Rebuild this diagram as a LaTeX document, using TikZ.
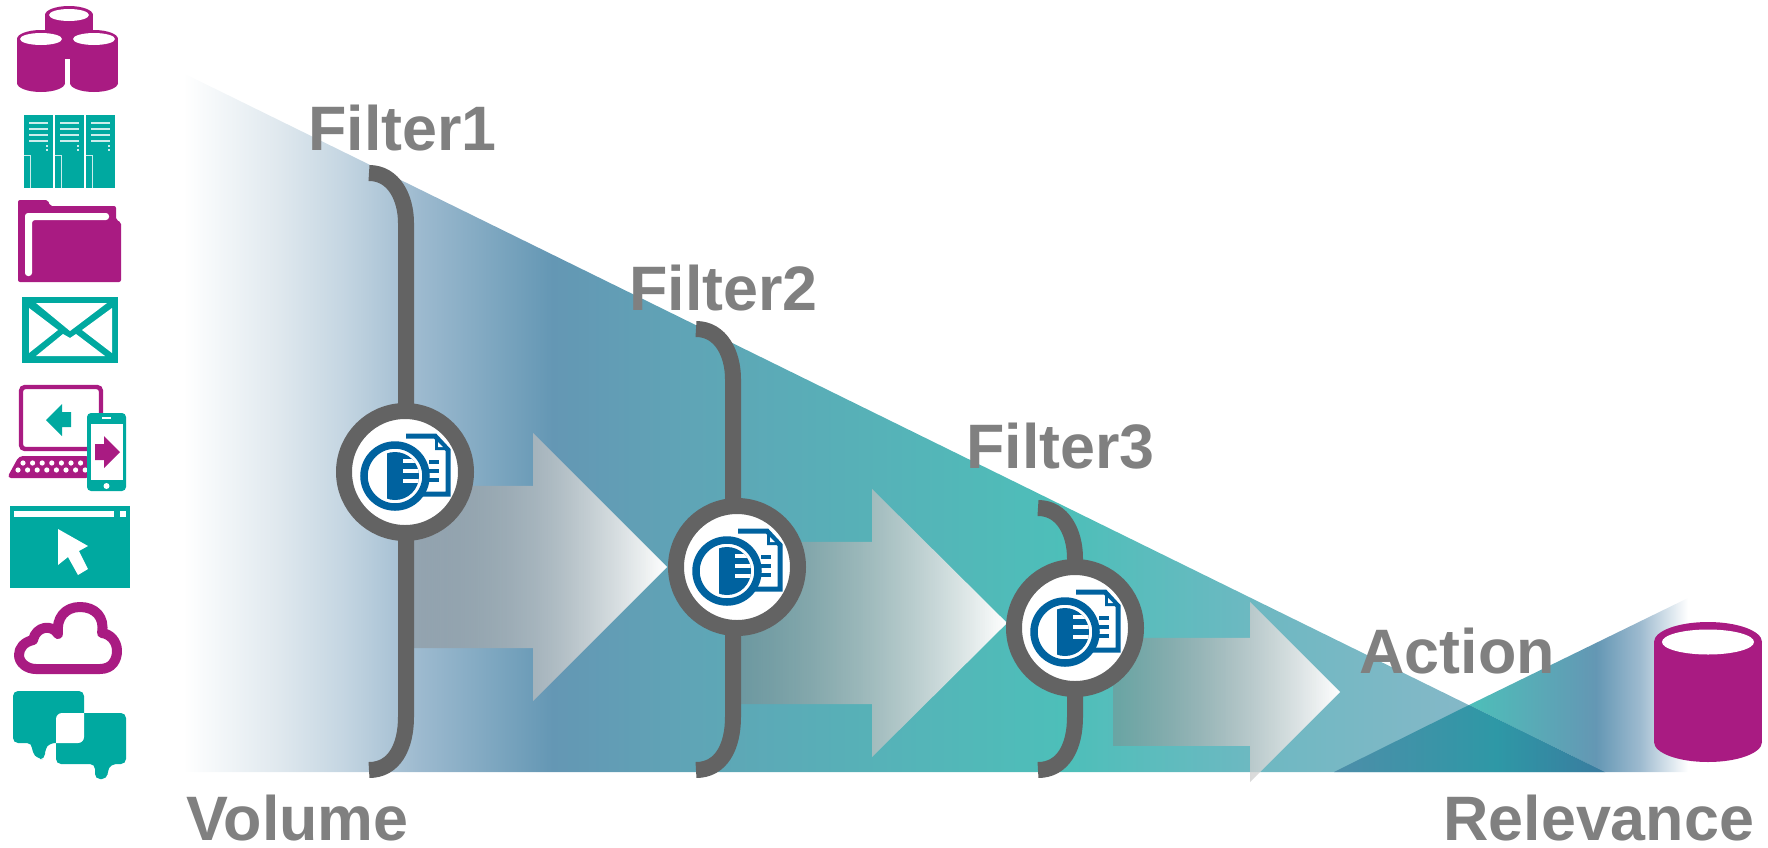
\documentclass[tikz,border=0pt]{standalone}
\usepackage{fontspec}
\setmainfont{Liberation Sans}
\usetikzlibrary{fadings}

\definecolor{iconmagenta}{HTML}{A91B82}
\definecolor{iconteal}{HTML}{00A9A0}
\definecolor{iconblue}{HTML}{00629F}
\definecolor{ringgray}{HTML}{636363}
\definecolor{labelgray}{HTML}{808080}
\definecolor{stepa}{HTML}{DFE8EE}
\definecolor{stepz}{HTML}{C5D6E2}
\definecolor{stepb}{HTML}{9DBACF}
\definecolor{stepc}{HTML}{6497B4}
\definecolor{stepd}{HTML}{5FA5B6}
\definecolor{stepe}{HTML}{4DBFB9}
\definecolor{stepf}{HTML}{6FB8C2}
\definecolor{stepg}{HTML}{93B8CB}
\definecolor{mixa}{HTML}{4D8EA9}
\definecolor{mixb}{HTML}{2E98A6}
\definecolor{mixc}{HTML}{3A7B9F}

\pgfdeclarehorizontalshading{volumeshade}{100bp}{color(0bp)=(white); color(25bp)=(white);
  color(28.4bp)=(stepa); color(30.6bp)=(stepz); color(33.3bp)=(stepb); color(38bp)=(stepc); color(43bp)=(stepd);
  color(56bp)=(stepe); color(63bp)=(stepf); color(75bp)=(stepg); color(100bp)=(stepg)}
\pgfdeclarehorizontalshading{relevanceshade}{100bp}{color(0bp)=(stepe); color(25bp)=(stepe);
  color(54bp)=(stepc); color(64bp)=(stepb); color(75bp)=(white); color(100bp)=(white)}
\pgfdeclarehorizontalshading{overlapshade}{100bp}{color(0bp)=(mixa); color(25bp)=(mixa);
  color(55bp)=(mixb); color(75bp)=(mixc); color(100bp)=(mixc)}
\tikzfading[name=flowfade,left color=transparent!58,right color=transparent!0]

\tikzset{
  filterring/.style={circle,draw=ringgray,fill=white,line width=8pt,minimum size=61pt,inner sep=0pt,outer sep=0pt},
  bracketline/.style={draw=ringgray,line width=8pt},
  flowarrow/.style={left color=black!48,right color=white,path fading=flowfade},
  biglabel/.style={anchor=base west,inner sep=0pt,text=labelgray,font=\fontsize{31.4}{36}\selectfont\bfseries},
  magentafig/.style={fill=iconmagenta},
  tealfig/.style={fill=iconteal},
  filtericon/.pic={
    \draw[iconblue,fill=white,line width=2.5pt,line join=miter] (1,-36) -- (30,-36) -- (43,-22) -- (43,22) -- (0,22);
    \fill[iconblue] (30,-38) -- (45,-22) -- (30,-22) -- cycle;
    \fill[white] (33,-30) -- (33,-25) -- (38,-25) -- cycle;
    \foreach \s in {-10,-1,8} \fill[iconblue] (24,\s-2) rectangle (34,\s+2);
    \draw[iconblue,fill=white,line width=3.75pt] (-10,4) circle[radius=31];
    \begin{scope}
      \clip (-10,4) circle[radius=24];
      \fill[iconblue] (-18,-22) rectangle (20,30);
      \foreach \s in {-11,-1,9} \fill[white] (-2,\s-2) rectangle (20,\s+2);
    \end{scope}
  }
}

\newcommand{\cylinderfig}[7]{
  \fill[magentafig] (#1,#2) ellipse[x radius=#3,y radius=#4];
  \fill[magentafig] (#1-#3,#2) rectangle (#1+#3,#5);
  \fill[magentafig] (#1,#5) ellipse[x radius=#3,y radius=#4];
  \fill[white] (#1,#2) ellipse[x radius=#6,y radius=#7];
}

\begin{document}
\begin{tikzpicture}[x=0.5pt,y=-0.5pt]
  \useasboundingbox (0,0) rectangle (1768,847);

  \shade[shading=volumeshade] (183,73) -- (1605,772) -- (183,772) -- cycle;
  \shade[shading=relevanceshade] (1469,705) -- (1688,598) -- (1688,772) -- (1605,772) -- cycle;
  \shade[shading=overlapshade] (1334,772) -- (1469,705) -- (1605,772) -- cycle;

  \foreach \l/\b/\t/\c/\h/\w in {413/533/667/567/134/81,741/872/1007/623/134/81,1113/1250/1340/692/90/54}{
    \shade[flowarrow] (\l,\c-\w) -- (\b,\c-\w) -- (\b,\c-\h) -- (\t,\c) -- (\b,\c+\h) -- (\b,\c+\w) -- (\l,\c+\w) -- cycle;
  }

  \foreach \n/\x/\y/\bx/\topy in {F1/405/472/406/173,F2/737/567/733/329,F3/1075/628/1075/508}{
    \node[filterring] (\n) at (\x,\y) {};
    \coordinate (T\n) at (\bx-37,\topy);
    \coordinate (B\n) at (\bx-37,770);
    \coordinate (V\n) at (\bx,\y);
    \draw[bracketline] (T\n) .. controls (\bx-12,\topy) and (\bx,\topy+25) .. (\bx,\topy+50) -- (V\n |- \n.north);
    \draw[bracketline] (B\n) .. controls (\bx-12,770) and (\bx,747) .. (\bx,717) -- (V\n |- \n.south);
    \pic at (\n) {filtericon};
  }

  \node[biglabel] (L1) at (308,150) {Filter1};
  \node[biglabel] (L2) at (629,310) {Filter2};
  \node[biglabel] (L3) at (966,468) {Filter3};
  \node[biglabel] (L4) at (1359,673) {Action};
  \node[biglabel] (L5) at (186,840) {Volume};
  \node[biglabel] (L6) at (1443,840) {Relevance};

  \cylinderfig{69}{15}{24}{9}{50}{20}{6}
  \cylinderfig{41}{39}{24}{9}{83}{21}{6}
  \cylinderfig{94}{39}{24}{9}{83}{21}{6}
  \fill[white] (66,68) rectangle (70,94);

  \foreach \x in {24,55,86}{
    \fill[tealfig] (\x,115) rectangle (\x+29,188);
    \foreach \y in {123,129,135,141} \fill[white,opacity=.8] (\x+5,\y-1) rectangle (\x+24,\y+1);
    \foreach \y in {146,150} \fill[white,opacity=.8] (\x+22,\y-1) rectangle (\x+24,\y+1);
    \draw[white,opacity=.8,line width=.5pt] (\x,155) -- (\x+6,155) -- (\x+6,188);
  }

  \fill[magentafig,rounded corners=1pt] (18,200) -- (48,200) -- (50,206) -- (116,206) -- (116,220) -- (121,222) -- (121,282) -- (18,282) -- cycle;
  \fill[white,rounded corners=1.5pt] (25,213) -- (109,213) -- (109,220) -- (32,220) -- (32,276) -- (25,276) -- cycle;

  \fill[tealfig] (22,297) rectangle (118,363);
  \fill[white] (36,303) -- (107,303) -- (70,331) -- cycle;
  \fill[white] (29,308) -- (29,353) -- (58,330) -- cycle;
  \fill[white] (112,308) -- (112,353) -- (82,330) -- cycle;
  \fill[white] (36,356) -- (105,356) -- (76,334) -- (70,338) -- (63,334) -- cycle;

  \draw[iconmagenta,line width=2.2pt,rounded corners=2pt] (21,387) rectangle (101,449);
  \fill[tealfig] (46,420) -- (62,404) -- (62,412) -- (71,412) -- (71,427) -- (62,427) -- (62,436) -- cycle;
  \fill[magentafig,rounded corners=2pt] (19,456) -- (90,456) -- (90,478) -- (7,478) -- cycle;
  \foreach \k in {0,...,6} \fill[white] (23+9.6*\k,463) circle[radius=2.6];
  \foreach \k in {0,...,7} \fill[white] (18+9.6*\k,470) circle[radius=2.6];
  \fill[tealfig,rounded corners=2pt] (87,413) rectangle (126,491);
  \fill[white] (91,424) rectangle (123,480);
  \fill[white] (106.5,486) circle[radius=3];
  \fill[white] (102,417) rectangle (111,418.5);
  \fill[magentafig] (95,444) -- (104,444) -- (104,436) -- (120,452) -- (104,468) -- (104,460) -- (95,460) -- cycle;

  \fill[tealfig] (10,506) rectangle (130,588);
  \fill[white] (14,511) rectangle (114,517);
  \fill[white] (120,511) rectangle (126,517);
  \fill[white] (58,529) -- (88,546) -- (79,551) -- (88,569) -- (78,575) -- (68,557) -- (58,565) -- cycle;

  \draw[iconmagenta,line width=5pt,line join=round] (36,669) -- (100,669) .. controls (112,669) and (117,660) .. (117,651) .. controls (117,641) and (110,634) .. (102,633) .. controls (105,617) and (95,607) .. (80,607) .. controls (65,607) and (56,618) .. (58,634) .. controls (52,624) and (36,626) .. (33,640) .. controls (24,642) and (19,648) .. (19,655) .. controls (19,663) and (27,669) .. (36,669) -- cycle;

  \fill[tealfig,rounded corners=2.5pt] (13,691) -- (84,691) -- (84,743) -- (50,743) -- (45,749) -- (45,759) -- (38,759) -- (32,752) -- (32,743) -- (13,743) -- cycle;
  \fill[tealfig,rounded corners=2.5pt] (56,713) -- (126,713) -- (126,764) -- (111,764) -- (108,770) -- (107,779) -- (95,779) -- (95,764) -- (56,764) -- cycle;
  \fill[white] [sharp corners] (56,743) [rounded corners=3pt] -- (56,713) [sharp corners] -- (84,713) [rounded corners=3pt] -- (84,743) [sharp corners] -- cycle;

  \cylinderfig{1708}{642}{54}{20}{742}{46}{12.5}
\end{tikzpicture}
\end{document}
